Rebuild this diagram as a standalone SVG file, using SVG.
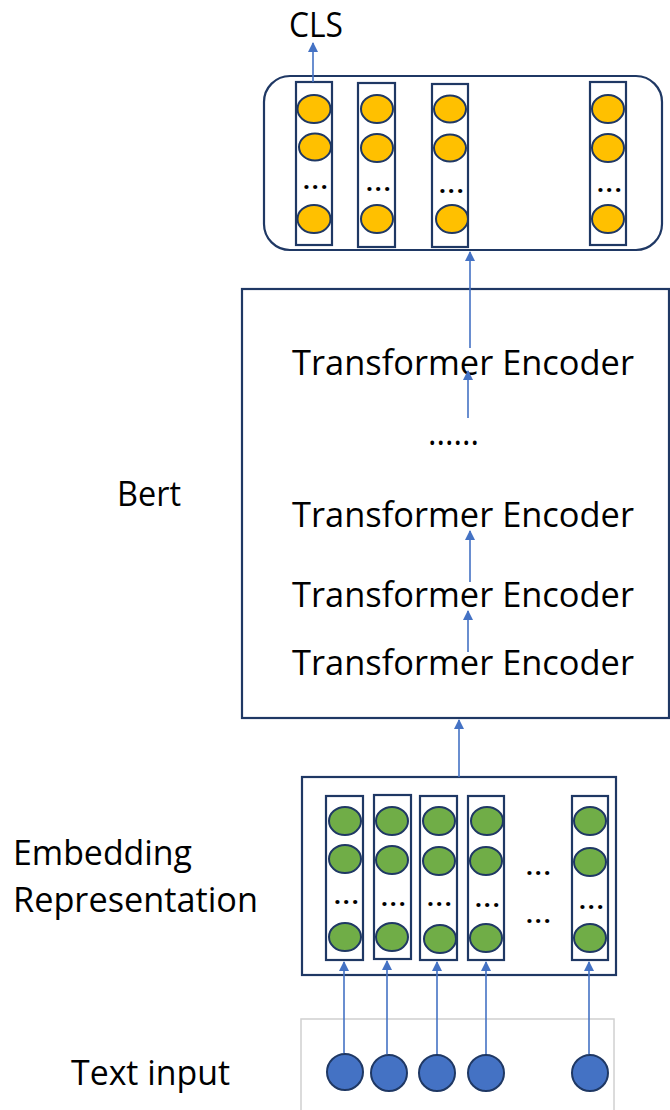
<svg xmlns="http://www.w3.org/2000/svg" width="670" height="1110" viewBox="0 0 670 1110">
<style>
text{font-family:"Open Sans","DejaVu Sans",sans-serif;fill:#000;}
.lbl{font-size:34px;}
.dots{font-size:24px;font-weight:bold;letter-spacing:2px;}
.col{fill:none;stroke:#1f3864;stroke-width:2.2;}
.box{fill:#fff;stroke:#1f3864;stroke-width:2.2;}
.y{fill:#ffc000;stroke:#1f3864;stroke-width:2;}
.g{fill:#70ad47;stroke:#1f3864;stroke-width:2;}
.b{fill:#4472c4;stroke:#1f3864;stroke-width:2;}
.ar{stroke:#4472c4;stroke-width:1.6;fill:none;marker-end:url(#ah);}
</style>
<defs>
<marker id="ah" viewBox="0 0 10 10" refX="9" refY="5" markerWidth="10" markerHeight="10" markerUnits="userSpaceOnUse" orient="auto">
<path d="M0,0 L10,5 L0,10 z" fill="#4472c4"/>
</marker>
</defs>
<rect width="670" height="1110" fill="#fff"/>

<g id="output-layer">
<rect class="box" x="264" y="76" width="398" height="174" rx="26"/>
<rect class="col" x="296" y="82" width="36" height="163"/>
<rect class="col" x="358" y="83" width="37" height="164"/>
<rect class="col" x="432" y="84" width="36" height="163"/>
<rect class="col" x="590" y="82" width="36" height="163"/>
<ellipse class="y" cx="314" cy="109" rx="16.5" ry="14"/>
<ellipse class="y" cx="315" cy="147" rx="16" ry="13.5"/>
<ellipse class="y" cx="314" cy="219" rx="16.5" ry="14"/>
<ellipse class="y" cx="377" cy="109" rx="16" ry="14"/>
<ellipse class="y" cx="377" cy="148" rx="16" ry="14"/>
<ellipse class="y" cx="377" cy="219" rx="16" ry="14"/>
<ellipse class="y" cx="450" cy="109" rx="16" ry="13.5"/>
<ellipse class="y" cx="450" cy="148" rx="16" ry="13.5"/>
<ellipse class="y" cx="452" cy="219" rx="16" ry="14"/>
<ellipse class="y" cx="608" cy="109" rx="16" ry="14"/>
<ellipse class="y" cx="608" cy="148" rx="16" ry="14"/>
<ellipse class="y" cx="608" cy="219" rx="16" ry="14"/>
<text class="dots" x="303" y="189">...</text>
<text class="dots" x="366" y="191">...</text>
<text class="dots" x="439" y="193">...</text>
<text class="dots" x="597" y="192">...</text>
<text class="lbl" x="289" y="37" textLength="54" lengthAdjust="spacingAndGlyphs">CLS</text>
</g>

<g id="bert">
<rect class="box" x="242" y="289" width="427" height="429"/>
<text class="lbl" x="117" y="506" textLength="64" lengthAdjust="spacingAndGlyphs">Bert</text>
<text class="lbl" x="292" y="375" textLength="342" lengthAdjust="spacingAndGlyphs">Transformer Encoder</text>
<text class="lbl" x="428" y="445" textLength="51" lengthAdjust="spacingAndGlyphs">......</text>
<text class="lbl" x="292" y="527" textLength="342" lengthAdjust="spacingAndGlyphs">Transformer Encoder</text>
<text class="lbl" x="292" y="607" textLength="342" lengthAdjust="spacingAndGlyphs">Transformer Encoder</text>
<text class="lbl" x="292" y="675" textLength="342" lengthAdjust="spacingAndGlyphs">Transformer Encoder</text>
</g>

<g id="embedding">
<rect class="box" x="302" y="777" width="314" height="198"/>
<rect class="col" x="326" y="796" width="37" height="164"/>
<rect class="col" x="374" y="795" width="37" height="164"/>
<rect class="col" x="420" y="796" width="37" height="164"/>
<rect class="col" x="468" y="796" width="36" height="164"/>
<rect class="col" x="572" y="796" width="36" height="164"/>
<ellipse class="g" cx="345" cy="821" rx="16" ry="14"/>
<ellipse class="g" cx="345" cy="859" rx="16" ry="14"/>
<ellipse class="g" cx="345" cy="937" rx="16" ry="14"/>
<ellipse class="g" cx="392" cy="821" rx="16" ry="14"/>
<ellipse class="g" cx="392" cy="860" rx="16" ry="14"/>
<ellipse class="g" cx="392" cy="937" rx="16" ry="14"/>
<ellipse class="g" cx="439" cy="821" rx="16" ry="14"/>
<ellipse class="g" cx="439" cy="861" rx="16" ry="14"/>
<ellipse class="g" cx="440" cy="939" rx="16" ry="14"/>
<ellipse class="g" cx="487" cy="821" rx="16" ry="14"/>
<ellipse class="g" cx="486" cy="861" rx="16" ry="14"/>
<ellipse class="g" cx="486" cy="938" rx="16" ry="14"/>
<ellipse class="g" cx="590" cy="821" rx="16" ry="14"/>
<ellipse class="g" cx="590" cy="862" rx="16" ry="14"/>
<ellipse class="g" cx="590" cy="938" rx="16" ry="14"/>
<text class="dots" x="334" y="904">...</text>
<text class="dots" x="381" y="906">...</text>
<text class="dots" x="427" y="906">...</text>
<text class="dots" x="475" y="907">...</text>
<text class="dots" x="579" y="909">...</text>
<text class="dots" x="526" y="875">...</text>
<text class="dots" x="526" y="923">...</text>
<text class="lbl" x="13" y="865" textLength="179" lengthAdjust="spacingAndGlyphs">Embedding</text>
<text class="lbl" x="13" y="912" textLength="245" lengthAdjust="spacingAndGlyphs">Representation</text>
</g>

<g id="text-input">
<rect x="301" y="1019" width="313" height="100" fill="none" stroke="#d0d0d0" stroke-width="1.5"/>
<circle class="b" cx="345" cy="1072" r="18"/>
<circle class="b" cx="389" cy="1073" r="18"/>
<circle class="b" cx="437" cy="1073" r="18"/>
<circle class="b" cx="486" cy="1073" r="18"/>
<circle class="b" cx="590" cy="1073" r="18"/>
<text class="lbl" x="71" y="1085" textLength="159" lengthAdjust="spacingAndGlyphs">Text input</text>
</g>

<g id="connectors">
<line class="ar" x1="313" y1="82" x2="313" y2="43"/>
<line class="ar" x1="470" y1="348" x2="470" y2="252"/>
<line class="ar" x1="468" y1="418" x2="468" y2="371"/>
<line class="ar" x1="470" y1="582" x2="470" y2="531"/>
<line class="ar" x1="468" y1="652" x2="468" y2="611"/>
<line class="ar" x1="459" y1="777" x2="459" y2="720"/>
<line class="ar" x1="344" y1="1053" x2="344" y2="962"/>
<line class="ar" x1="387" y1="1054" x2="387" y2="961"/>
<line class="ar" x1="437" y1="1054" x2="437" y2="962"/>
<line class="ar" x1="486" y1="1054" x2="486" y2="962"/>
<line class="ar" x1="589" y1="1054" x2="589" y2="962"/>
</g>
</svg>
